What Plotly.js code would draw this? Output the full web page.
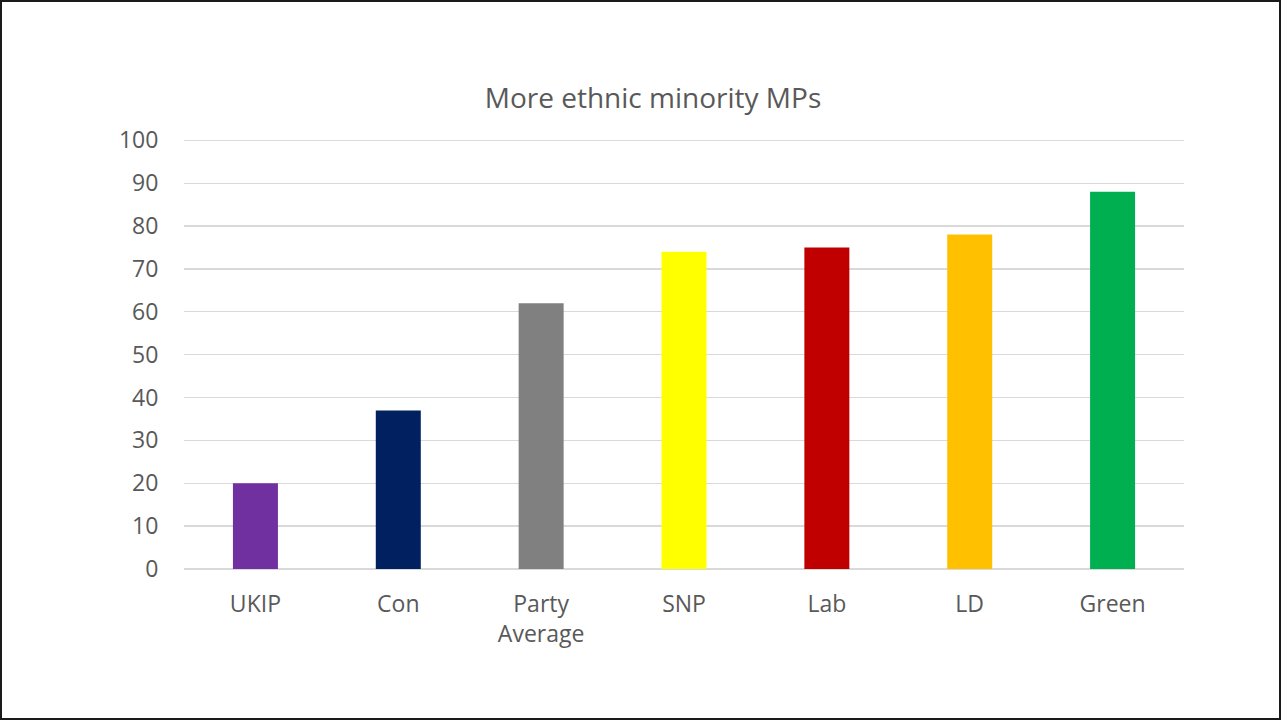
<!DOCTYPE html>
<html>
<head>
<meta charset="utf-8">
<script src="https://cdn.plot.ly/plotly-3.0.1.min.js"></script>
<style>
  html, body { margin: 0; padding: 0; background: #fff; }
  #frame { position: absolute; left: 0; top: 0; width: 1277px; height: 716px; border: 2px solid #1a1a1a; }
  #chart { width: 1277px; height: 716px; }
</style>
</head>
<body>
<div id="frame"><div id="chart"></div></div>
<script>
const categories = ["UKIP", "Con", "Party<br>Average", "SNP", "Lab", "LD", "Green"];
const values = [20, 37, 62, 74, 75, 78, 88];
const barColors = ["#7030A0", "#002060", "#808080", "#FFFF00", "#C00000", "#FFC000", "#00B050"];
const yTicks = [0, 10, 20, 30, 40, 50, 60, 70, 80, 90, 100];
const chartTitle = "More ethnic minority MPs";

const font = "Open Sans, Liberation Sans, sans-serif";
const trace = {
  type: "bar",
  x: categories,
  y: values,
  marker: { color: barColors },
  hoverinfo: "none"
};
const layout = {
  width: 1277, height: 716,
  margin: { l: 182, r: 95, t: 137, b: 149 },
  paper_bgcolor: "#fff", plot_bgcolor: "#fff",
  bargap: 0.685,
  showlegend: false,
  title: {
    text: chartTitle,
    font: { family: font, size: 28, color: "#595959" },
    x: 0.469, xref: "paper", xanchor: "center",
    y: 0.866, yref: "container", yanchor: "middle"
  },
  xaxis: {
    type: "category",
    tickfont: { family: font, size: 23, color: "#595959" },
    showgrid: false,
    zeroline: false,
    showline: false,
    ticks: "outside", ticklen: 14, tickcolor: "rgba(0,0,0,0)"
  },
  yaxis: {
    range: [0, 100.3],
    tickvals: yTicks,
    tickfont: { family: font, size: 23, color: "#595959" },
    gridcolor: "#d9d9d9", gridwidth: 1.3,
    zeroline: true, zerolinecolor: "#d9d9d9", zerolinewidth: 1.3,
    showline: false,
    ticks: "outside", ticklen: 20, tickcolor: "rgba(0,0,0,0)"
  }
};
Plotly.newPlot("chart", [trace], layout, { displayModeBar: false, staticPlot: true });
</script>
</body>
</html>
